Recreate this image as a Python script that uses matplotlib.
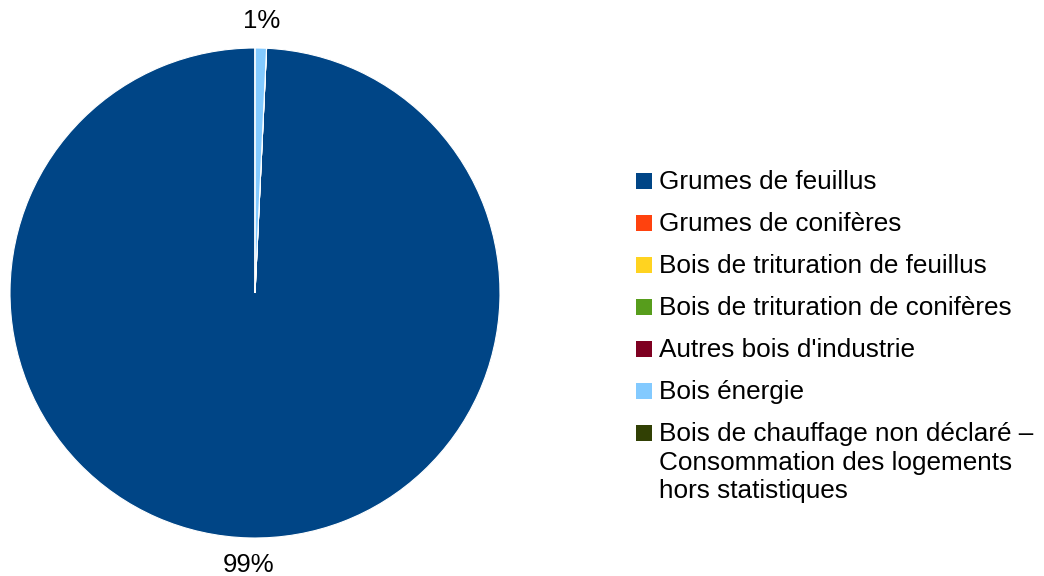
import matplotlib
matplotlib.use("Agg")
import matplotlib.pyplot as plt
from matplotlib.patches import Rectangle

plt.rcParams['font.family'] = ['Liberation Sans', 'DejaVu Sans']

categories = [
    "Grumes de feuillus",
    "Grumes de conifères",
    "Bois de trituration de feuillus",
    "Bois de trituration de conifères",
    "Autres bois d'industrie",
    "Bois énergie",
    "Bois de chauffage non déclaré –\nConsommation des logements\nhors statistiques",
]
values = [99.25, 0, 0, 0, 0, 0.75, 0]
colors = ["#004586", "#ff420e", "#ffd320", "#579d1c", "#7e0021", "#83caff", "#314004"]

W, H = 1044, 576
fig = plt.figure(figsize=(W / 100, H / 100), dpi=100)
cx, cy, r = 255, 293, 245
ax = fig.add_axes([(cx - r) / W, (H - cy - r) / H, 2 * r / W, 2 * r / H])

def fmt(p):
    return f"{p:.0f}%" if p > 0.05 else ""

wedges, texts, autotexts = ax.pie(
    values, colors=colors, startangle=90, counterclock=True,
    autopct=fmt, pctdistance=1.11, radius=1,
    wedgeprops=dict(edgecolor="white", linewidth=0.8),
    textprops=dict(fontsize=18.5, color="black"),
)
ax.set_xlim(-1, 1)
ax.set_ylim(-1, 1)
ax.set_aspect('equal')
ax.axis('off')

# Legend drawn in figure pixel coordinates
sq = 16
x_sq, x_txt = 636, 659
y0, dy = 181, 42
for i, (cat, col) in enumerate(zip(categories, colors)):
    yc = y0 + dy * i
    fig.patches.append(Rectangle((x_sq / W, 1 - (yc + sq / 2) / H), sq / W, sq / H,
                                 transform=fig.transFigure, facecolor=col,
                                 edgecolor='none'))
    fig.text(x_txt / W, 1 - (yc - 11) / H, cat, fontsize=18.8, va='top', ha='left',
             linespacing=1.24)

fig.savefig("out.png", dpi=100)
